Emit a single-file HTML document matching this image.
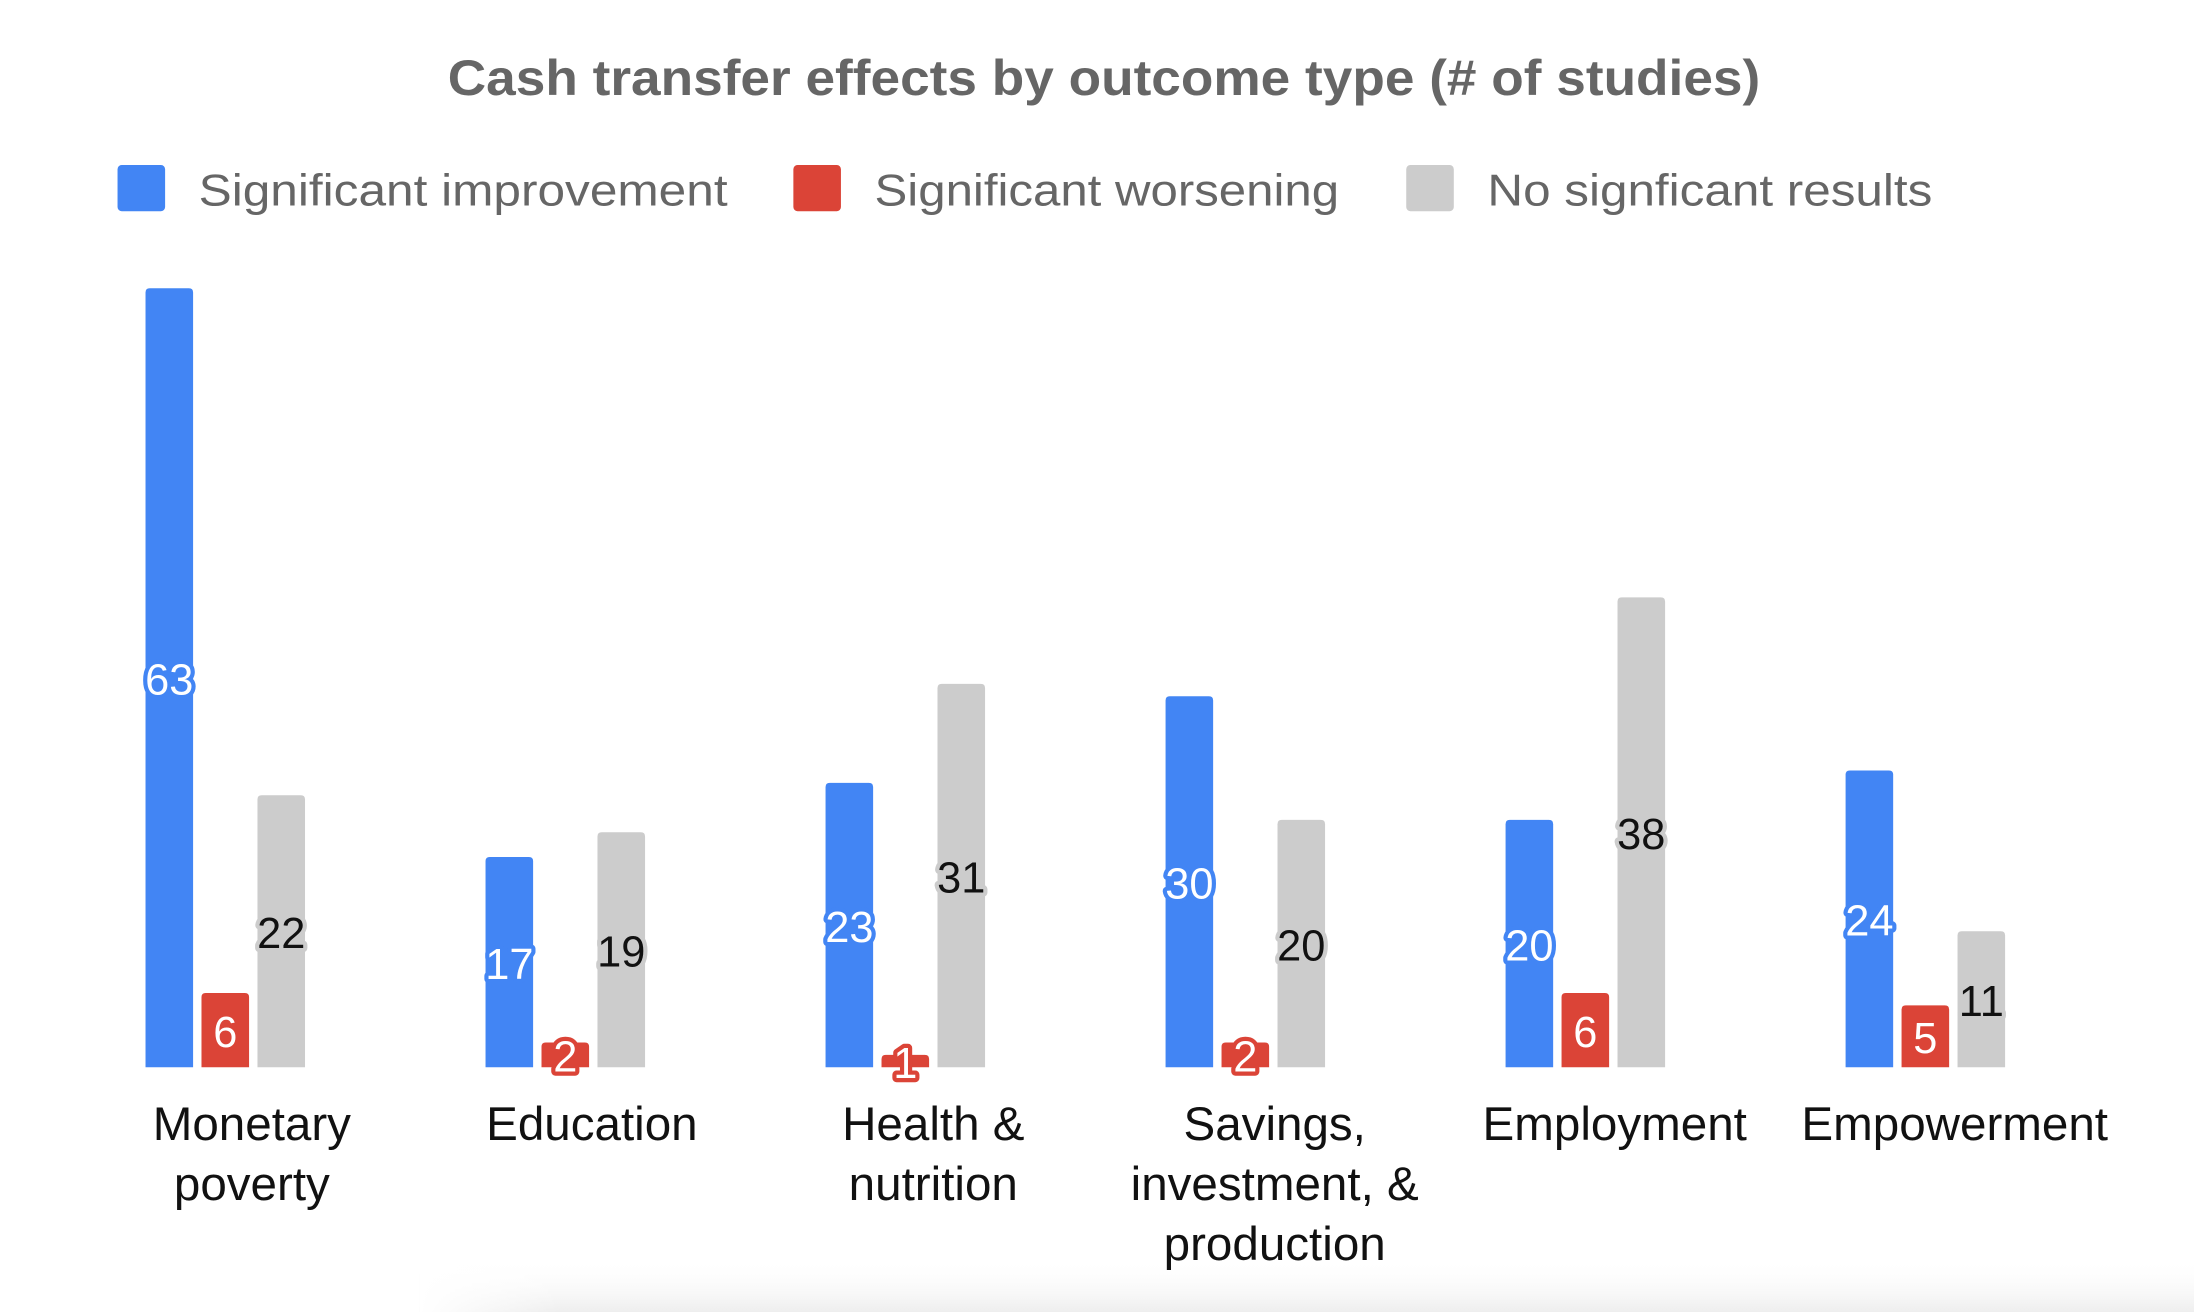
<!DOCTYPE html>
<html><head><meta charset="utf-8"><style>
html,body{margin:0;padding:0;background:#fff;}
svg{display:block;}
text{font-family:"Liberation Sans",sans-serif;}
.v{font-size:31px;text-anchor:middle;dominant-baseline:central;paint-order:stroke;stroke-width:6px;stroke-linejoin:round;}
.c{font-size:34px;fill:#111;text-anchor:middle;}
</style></head><body>
<svg width="2194" height="1312" viewBox="0 0 1568 938" preserveAspectRatio="none">
<defs><linearGradient id="sh" x1="0" y1="0" x2="0" y2="1"><stop offset="0" stop-color="#fff" stop-opacity="0"/><stop offset="1" stop-color="#eee"/></linearGradient>
<linearGradient id="sh2" x1="0" y1="0" x2="1" y2="0"><stop offset="0" stop-color="#fff" stop-opacity="1"/><stop offset="1" stop-color="#fff" stop-opacity="0"/></linearGradient></defs>
<rect x="300" y="900" width="1268" height="38" fill="url(#sh)"/>
<rect x="300" y="900" width="100" height="38" fill="url(#sh2)"/>
<text x="789" y="68" text-anchor="middle" font-size="36" font-weight="bold" fill="#666" textLength="938" lengthAdjust="spacingAndGlyphs">Cash transfer effects by outcome type (# of studies)</text>
<rect x="84" y="118" width="34" height="33" rx="3" fill="#4285f4"/>
<text x="142" y="147" font-size="32" fill="#666" textLength="378" lengthAdjust="spacingAndGlyphs">Significant improvement</text>
<rect x="567" y="118" width="34" height="33" rx="3" fill="#db4437"/>
<text x="625" y="147" font-size="32" fill="#666" textLength="332" lengthAdjust="spacingAndGlyphs">Significant worsening</text>
<rect x="1005" y="118" width="34" height="33" rx="3" fill="#cccccc"/>
<text x="1063" y="147" font-size="32" fill="#666" textLength="318" lengthAdjust="spacingAndGlyphs">No signficant results</text>
<g id="bars"></g>
<text class="c" x="180" y="815">Monetary</text><text class="c" x="180" y="858">poverty</text>
<text class="c" x="423" y="815">Education</text>
<text class="c" x="667" y="815">Health &amp;</text><text class="c" x="667" y="858">nutrition</text>
<text class="c" x="911" y="815">Savings,</text><text class="c" x="911" y="858">investment, &amp;</text><text class="c" x="911" y="901">production</text>
<text class="c" x="1154" y="815">Employment</text>
<text class="c" x="1397" y="815">Empowerment</text>
</svg>
<script>
var d=[[63,6,22],[17,2,19],[23,1,31],[30,2,20],[20,6,38],[24,5,11]];
var col=['#4285f4','#db4437','#cccccc'],tf=['#fff','#fff','#111'];
var ns='http://www.w3.org/2000/svg',g=document.getElementById('bars'),B=763,U=8.84;
d.forEach(function(r,i){var x0=104+243*i;r.forEach(function(v,j){
var x=x0+j*40,h=v*U,w=34;
var p=document.createElementNS(ns,'path');var t=B-h,rr=Math.min(3,h/2);
p.setAttribute('d','M'+x+' '+B+'V'+(t+rr)+'Q'+x+' '+t+' '+(x+rr)+' '+t+'H'+(x+w-rr)+'Q'+(x+w)+' '+t+' '+(x+w)+' '+(t+rr)+'V'+B+'Z');
p.setAttribute('fill',col[j]);g.appendChild(p);
var tx=document.createElementNS(ns,'text');tx.setAttribute('class','v');
tx.setAttribute('x',x+w/2);tx.setAttribute('y',B-h/2+2);
tx.setAttribute('fill',tf[j]);tx.setAttribute('stroke',col[j]);tx.textContent=v;g.appendChild(tx);});});
</script>
</body></html>
